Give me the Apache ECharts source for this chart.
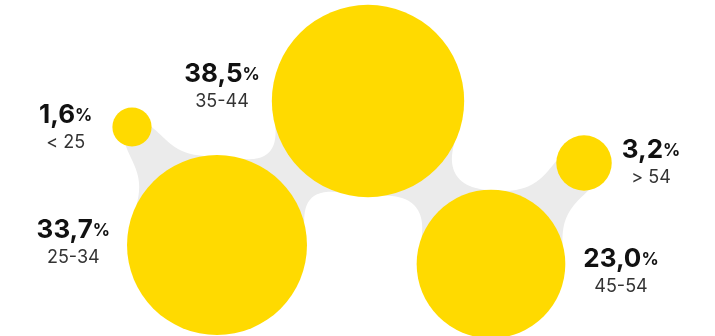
<!DOCTYPE html>
<html>
<head>
<meta charset="utf-8">
<script src="https://cdn.jsdelivr.net/npm/echarts@6/dist/echarts.min.js"></script>
<style>
  html, body { margin: 0; padding: 0; background: #ffffff; }
  #chart { width: 715px; height: 336px; }
</style>
</head>
<body>
<div id="chart"></div>
<script>
// Age groups and their share of the total (%)
const categories = ['< 25', '25-34', '35-44', '45-54', '> 54'];
const shares = [1.6, 33.7, 38.5, 23.0, 3.2];
const shareLabels = ['1,6', '33,7', '38,5', '23,0', '3,2'];

// Where each bubble sits on a 0–100 canvas grid (layout only)
const layoutX = [18.46, 30.35, 51.47, 68.67, 81.68];
const layoutY = [37.8, 72.92, 30.06, 78.57, 48.51];

// Which side of its bubble each label sits on, and fine offsets
const labelSide = ['left', 'left', 'left', 'right', 'right'];
const labelGap = [20, 17, 12, 18, 10];
const labelShift = [[0, 0], [0, -3], [0, -15], [0, 7], [0, -1]];

const YELLOW = '#FFDA00';
const GOO = '#EBEBEB';
const FONT = 'Inter, "Liberation Sans", Arial, sans-serif';

// Bubble area is proportional to the share
const RADIUS_PER_ROOT = 15.5;
const bubbleRadius = v => RADIUS_PER_ROOT * Math.sqrt(v);

// Gooey backdrop: bubbles plus a band linking neighbouring age groups,
// blurred and thresholded so the joints melt into rounded bridges.
const LINK_HALF_WIDTH = 20;
const GOO_SIGMA = 20;
const GRID_STEP = 2;
const MARGIN = 80;

function segDist(px, py, ax, ay, bx, by) {
  const dx = bx - ax, dy = by - ay;
  let t = ((px - ax) * dx + (py - ay) * dy) / (dx * dx + dy * dy);
  t = Math.max(0, Math.min(1, t));
  return Math.hypot(px - (ax + t * dx), py - (ay + t * dy));
}

function gooField(discs, w, h) {
  const s = GRID_STEP;
  const ox = -MARGIN, oy = -MARGIN;
  const nx = Math.ceil((w + 2 * MARGIN) / s) + 1;
  const ny = Math.ceil((h + 2 * MARGIN) / s) + 1;
  const a = new Float64Array(nx * ny);
  // coverage of the hard shape
  for (let j = 0; j < ny; j++) {
    const py = oy + j * s;
    for (let i = 0; i < nx; i++) {
      const px = ox + i * s;
      let d = Infinity;
      for (const c of discs) d = Math.min(d, Math.hypot(px - c.x, py - c.y) - c.r);
      for (let k = 0; k + 1 < discs.length; k++) {
        const p = discs[k], q = discs[k + 1];
        d = Math.min(d, segDist(px, py, p.x, p.y, q.x, q.y) - LINK_HALF_WIDTH);
      }
      a[j * nx + i] = Math.max(0, Math.min(1, 0.5 - d / s));
    }
  }
  // separable gaussian blur
  const sg = GOO_SIGMA / s;
  const rad = Math.ceil(3 * sg);
  const ker = [];
  let sum = 0;
  for (let k = -rad; k <= rad; k++) { const v = Math.exp(-k * k / (2 * sg * sg)); ker.push(v); sum += v; }
  for (let k = 0; k < ker.length; k++) ker[k] /= sum;
  const b = new Float64Array(nx * ny);
  for (let j = 0; j < ny; j++) {
    for (let i = 0; i < nx; i++) {
      let v = 0;
      for (let k = -rad; k <= rad; k++) {
        const ii = i + k;
        if (ii >= 0 && ii < nx) v += ker[k + rad] * a[j * nx + ii];
      }
      b[j * nx + i] = v;
    }
  }
  for (let j = 0; j < ny; j++) {
    for (let i = 0; i < nx; i++) {
      let v = 0;
      for (let k = -rad; k <= rad; k++) {
        const jj = j + k;
        if (jj >= 0 && jj < ny) v += ker[k + rad] * b[jj * nx + i];
      }
      a[j * nx + i] = v - 0.5; // > 0 inside
    }
  }
  return { vals: a, nx, ny, ox, oy, s };
}

// Marching squares: every cell's inside part goes into one path
function gooPath(field) {
  const { vals, nx, ny, ox, oy, s } = field;
  const f = n => n.toFixed(2);
  const out = [];
  for (let j = 0; j < ny - 1; j++) {
    let runStart = -1;
    for (let i = 0; i < nx; i++) {
      let full = false, poly = null;
      if (i < nx - 1) {
        const x0 = ox + i * s, y0 = oy + j * s, x1 = x0 + s, y1 = y0 + s;
        const c = [
          [x0, y0, vals[j * nx + i]],
          [x1, y0, vals[j * nx + i + 1]],
          [x1, y1, vals[(j + 1) * nx + i + 1]],
          [x0, y1, vals[(j + 1) * nx + i]]
        ];
        const ins = c.map(p => p[2] > 0);
        if (ins.every(Boolean)) full = true;
        else if (ins.some(Boolean)) {
          poly = [];
          for (let k = 0; k < 4; k++) {
            const p = c[k], q = c[(k + 1) % 4];
            if (ins[k]) poly.push([p[0], p[1]]);
            if (ins[k] !== ins[(k + 1) % 4]) {
              const t = p[2] / (p[2] - q[2]);
              poly.push([p[0] + (q[0] - p[0]) * t, p[1] + (q[1] - p[1]) * t]);
            }
          }
        }
      }
      if (full) {
        if (runStart < 0) runStart = i;
      } else if (runStart >= 0) {
        const xa = ox + runStart * s, xb = ox + i * s, ya = oy + j * s, yb = ya + s;
        out.push('M' + xa + ' ' + ya + 'L' + xb + ' ' + ya + 'L' + xb + ' ' + yb + 'L' + xa + ' ' + yb + 'Z');
        runStart = -1;
      }
      if (poly && poly.length > 2) {
        out.push('M' + poly.map(p => f(p[0]) + ' ' + f(p[1])).join('L') + 'Z');
      }
    }
  }
  return out.join('');
}

const bubbleData = shares.map((v, i) => ({
  value: [layoutX[i], layoutY[i], v],
  name: categories[i],
  label: {
    position: labelSide[i],
    distance: labelGap[i],
    offset: labelShift[i],
    formatter: '{v|' + shareLabels[i] + '}{p|%}\n{c|' + categories[i] + '}'
  }
}));

const chart = echarts.init(document.getElementById('chart'), null, { renderer: 'canvas' });

chart.setOption({
  animation: false,
  backgroundColor: '#ffffff',
  grid: { left: 0, right: 0, top: 0, bottom: 0 },
  xAxis: { type: 'value', min: 0, max: 100, show: false },
  yAxis: { type: 'value', min: 0, max: 100, inverse: true, show: false },
  series: [
    {
      type: 'custom',
      coordinateSystem: 'cartesian2d',
      silent: true,
      clip: false,
      z: 1,
      data: [[0, 0]],
      renderItem: function (params, api) {
        const discs = shares.map((v, i) => {
          const p = api.coord([layoutX[i], layoutY[i]]);
          return { x: p[0], y: p[1], r: bubbleRadius(v) };
        });
        const field = gooField(discs, api.getWidth(), api.getHeight());
        return {
          type: 'path',
          shape: { pathData: gooPath(field) },
          style: { fill: GOO }
        };
      }
    },
    {
      type: 'scatter',
      z: 2,
      data: bubbleData,
      symbol: 'circle',
      symbolSize: d => 2 * bubbleRadius(d[2]),
      itemStyle: { color: YELLOW, opacity: 1 },
      emphasis: { disabled: true },
      label: {
        show: true,
        color: '#111',
        fontFamily: FONT,
        rich: {
          v: { fontSize: 26, fontWeight: 'bold', color: '#111', fontFamily: FONT, lineHeight: 32, align: 'center' },
          p: { fontSize: 17, fontWeight: 'bold', color: '#111', fontFamily: FONT, lineHeight: 32, align: 'center' },
          c: { fontSize: 18, color: '#333', fontFamily: FONT, lineHeight: 23, align: 'center' }
        }
      }
    }
  ]
});
</script>
</body>
</html>
